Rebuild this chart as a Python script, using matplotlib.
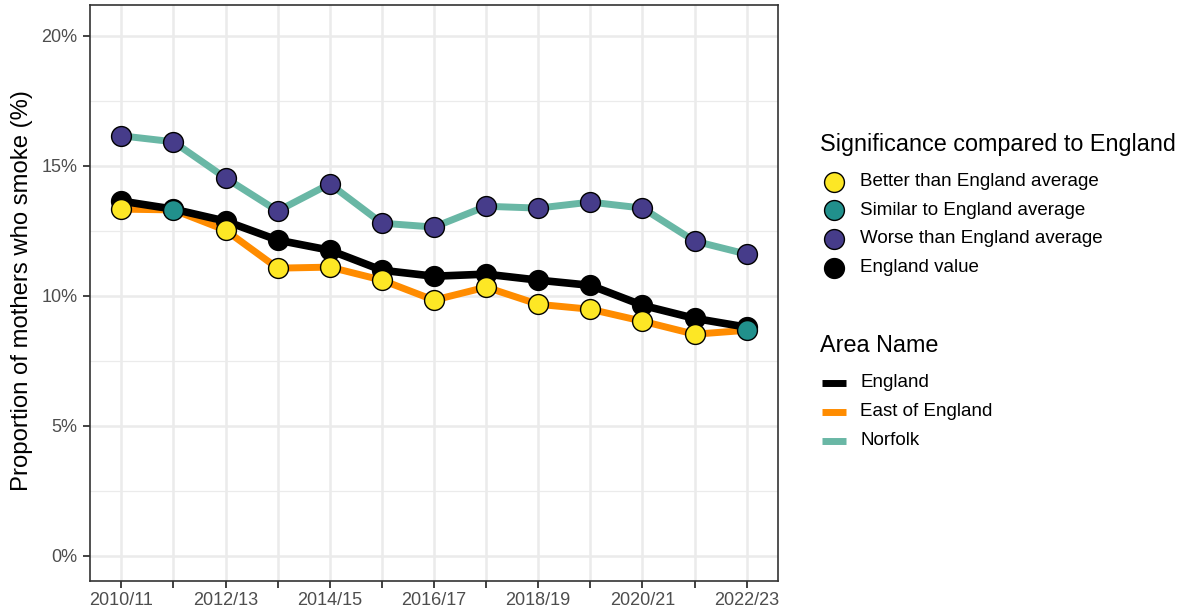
import matplotlib
matplotlib.use("Agg")
import matplotlib.pyplot as plt
from matplotlib.lines import Line2D
from matplotlib.ticker import FuncFormatter, MultipleLocator

plt.rcParams['font.family'] = ['Liberation Sans', 'DejaVu Sans']

years = ["2010/11", "2011/12", "2012/13", "2013/14", "2014/15", "2015/16", "2016/17",
         "2017/18", "2018/19", "2019/20", "2020/21", "2021/22", "2022/23"]
england = [13.64, 13.33, 12.87, 12.14, 11.75, 10.98, 10.75, 10.83, 10.60, 10.40, 9.63, 9.13, 8.79]
east = [13.33, 13.30, 12.52, 11.06, 11.10, 10.60, 9.83, 10.33, 9.67, 9.48, 9.02, 8.52, 8.67]
norfolk = [16.15, 15.92, 14.53, 13.26, 14.30, 12.79, 12.64, 13.44, 13.37, 13.60, 13.37, 12.10, 11.60]
east_sig = ["Better", "Similar", "Better", "Better", "Better", "Better", "Better",
            "Better", "Better", "Better", "Better", "Better", "Similar"]
norfolk_sig = ["Worse"] * 13

sig_colors = {"Better": "#FDE725", "Similar": "#21908C", "Worse": "#463C8A", "England": "#000000"}
sig_labels = ["Better than England average", "Similar to England average",
              "Worse than England average", "England value"]
line_colors = {"England": "#000000", "East of England": "#FF8C00", "Norfolk": "#69B7A5"}

W, H = 1183, 615
fig = plt.figure(figsize=(W / 100, H / 100), dpi=100)
ax = fig.add_axes([90 / W, 1 - 581 / H, (778 - 90) / W, (581 - 5) / H])

x = list(range(len(years)))
ax.plot(x, east, color=line_colors["East of England"], lw=5.0, zorder=2, solid_capstyle='butt')
ax.plot(x, norfolk, color=line_colors["Norfolk"], lw=5.0, zorder=2, solid_capstyle='butt')
ax.plot(x, england, color=line_colors["England"], lw=5.5, zorder=3, solid_capstyle='butt')

ms = 14.3
for xi, v in zip(x, england):
    ax.plot(xi, v, 'o', ms=ms, mfc=sig_colors["England"], mec='black', mew=1.0, zorder=4)
for xi, v, s in zip(x, east, east_sig):
    ax.plot(xi, v, 'o', ms=ms, mfc=sig_colors[s], mec='black', mew=1.0, zorder=5)
for xi, v, s in zip(x, norfolk, norfolk_sig):
    ax.plot(xi, v, 'o', ms=ms, mfc=sig_colors[s], mec='black', mew=1.0, zorder=5)

ax.set_xlim(-0.6, 12.6)
ax.set_ylim(-0.97, 21.18)
ax.set_xticks(x)
ax.set_xticklabels([y if i % 2 == 0 else "" for i, y in enumerate(years)])
ax.yaxis.set_major_locator(MultipleLocator(5))
ax.yaxis.set_minor_locator(MultipleLocator(2.5))
ax.yaxis.set_major_formatter(FuncFormatter(lambda v, p: f"{v:.0f}%"))
ax.grid(True, which='major', color='#EBEBEB', lw=1.8, zorder=0)
ax.grid(True, which='minor', axis='y', color='#EBEBEB', lw=0.9, zorder=0)
ax.tick_params(axis='y', which='minor', length=0)
ax.tick_params(axis='both', which='major', length=5, width=1.3, color='#333333',
               labelcolor='#4D4D4D', labelsize=13, pad=4)
ax.tick_params(axis='x', which='major', pad=3)
for sp in ax.spines.values():
    sp.set_color('#333333')
    sp.set_linewidth(1.2)
ax.set_axisbelow(True)

def fx(px):
    return px / W

def fy(py):
    return 1 - py / H

fig.text(fx(22), fy(291), "Proportion of mothers who smoke (%)", fontsize=17.2,
         rotation=90, ha='center', va='center', color='black')

# Legends (drawn in figure pixel coordinates)
fig.text(fx(820), fy(144), "Significance compared to England", fontsize=16.8,
         va='center', ha='left', color='black')
keys = ["Better", "Similar", "Worse", "England"]
for i, (k, lab) in enumerate(zip(keys, sig_labels)):
    yy = 181.5 + i * 28.7
    fig.add_artist(Line2D([fx(834)], [fy(yy)], marker='o', ms=14.3, mfc=sig_colors[k],
                          mec='black', mew=1.0, transform=fig.transFigure))
    fig.text(fx(860), fy(yy), lab, fontsize=13.5, va='center', ha='left', color='black')

fig.text(fx(820), fy(346), "Area Name", fontsize=16.8, va='center', ha='left', color='black')
for i, name in enumerate(["England", "East of England", "Norfolk"]):
    yy = 382.5 + i * 29
    fig.add_artist(Line2D([fx(822), fx(846)], [fy(yy), fy(yy)], lw=5,
                          color=line_colors[name], transform=fig.transFigure,
                          solid_capstyle='butt'))
    fig.text(fx(860), fy(yy), name, fontsize=13.5, va='center', ha='left', color='black')

fig.savefig("out.png", dpi=100)
